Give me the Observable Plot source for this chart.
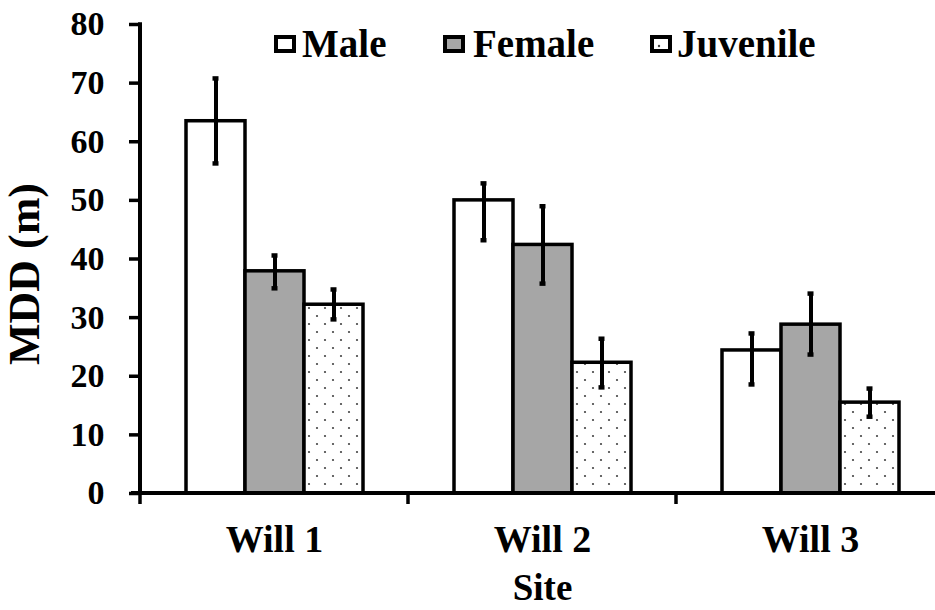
<!DOCTYPE html>
<html><head><meta charset="utf-8">
<script src="https://cdn.jsdelivr.net/npm/d3@7"></script>
<script src="https://cdn.jsdelivr.net/npm/@observablehq/plot@0.6"></script>
<style>
html,body{margin:0;padding:0;background:#fff;}
#wrap{position:relative;width:935px;height:610px;overflow:hidden;background:#fff;}
#legend{position:absolute;left:0;top:0;pointer-events:none;}
</style></head>
<body><div id="wrap"></div>
<script>
// ---- data ----
const sites = ["Will 1", "Will 2", "Will 3"];
const groups = ["Male", "Female", "Juvenile"];
const maleMean = [63.5, 50.0, 24.4];
const maleLo = [56.3, 43.2, 18.6];
const maleHi = [70.8, 52.9, 27.3];
const femaleMean = [37.9, 42.4, 28.8];
const femaleLo = [35.0, 35.8, 23.7];
const femaleHi = [40.6, 49.0, 34.1];
const juvMean = [32.2, 22.3, 15.5];
const juvLo = [29.7, 18.1, 13.1];
const juvHi = [34.8, 26.4, 17.9];
const yTicks = [0, 10, 20, 30, 40, 50, 60, 70, 80];
const yLabel = "MDD (m)";
const xLabel = "Site";
const groupFills = ["#ffffff", "#a6a6a6", "url(#dotPattern)"];

const series = {
  Male: [maleMean, maleLo, maleHi],
  Female: [femaleMean, femaleLo, femaleHi],
  Juvenile: [juvMean, juvLo, juvHi]
};
const rows = [];
sites.forEach((site, i) => {
  groups.forEach(g => {
    const [m, lo, hi] = series[g];
    rows.push({site, group: g, mean: m[i], lo: lo[i], hi: hi[i]});
  });
});

const FONT = "'Liberation Serif', 'Times New Roman', Times, serif";

const overlay = Plot.frame({
  facet: "super",
  stroke: "none",
  render: (index, scales, values, dims) => {
    const g = d3.create("svg:g");
    const pat = g.append("defs").append("pattern")
      .attr("id", "dotPattern").attr("patternUnits", "userSpaceOnUse")
      .attr("width", 16).attr("height", 16);
    pat.append("rect").attr("width", 16).attr("height", 16).attr("fill", "#fff");
    pat.append("circle").attr("cx", 4).attr("cy", 4).attr("r", 1.1).attr("fill", "#444");
    pat.append("circle").attr("cx", 12).attr("cy", 12).attr("r", 1.1).attr("fill", "#444");
    const y0 = scales.y(0), yTop = scales.y(d3.max(yTicks));
    const left = dims.marginLeft;
    const right = dims.width - dims.marginRight;
    g.append("line").attr("x1", left).attr("x2", left)
      .attr("y1", yTop - 1.75).attr("y2", y0 + 1.75)
      .attr("stroke", "black").attr("stroke-width", 4);
    g.append("line").attr("x1", left - 9).attr("x2", right)
      .attr("y1", y0).attr("y2", y0)
      .attr("stroke", "black").attr("stroke-width", 4);
    const fx = scales.fx;
    const step = (right - left) / sites.length;
    sites.forEach((s, i) => {
      const x = fx ? fx(s) : left + i * step;
      g.append("line").attr("x1", x).attr("x2", x)
        .attr("y1", y0).attr("y2", y0 + 11)
        .attr("stroke", "black").attr("stroke-width", 3.5);
    });
    return g.node();
  }
});

const chart = Plot.plot({
  width: 935,
  height: 610,
  marginLeft: 139,
  marginRight: -9,
  marginTop: 24,
  marginBottom: 117,
  style: {fontFamily: FONT, fontWeight: "bold", color: "black", background: "white"},
  fx: {domain: sites, padding: 0},
  x: {domain: groups, paddingInner: 0, paddingOuter: 0.74, axis: null},
  y: {domain: [0, 80]},
  color: {domain: groups, range: groupFills},
  marks: [
    Plot.barY(rows, {fx: "site", x: "group", y: "mean", fill: "group", stroke: "black", strokeWidth: 3.5}),
    Plot.ruleX(rows, {fx: "site", x: "group", y1: "lo", y2: "hi", stroke: "black", strokeWidth: 4}),
    Plot.tickY(rows, {fx: "site", x: "group", y: "hi", stroke: "black", strokeWidth: 4.5, insetLeft: 26.5, insetRight: 26.5}),
    Plot.tickY(rows, {fx: "site", x: "group", y: "lo", stroke: "black", strokeWidth: 4.5, insetLeft: 26.5, insetRight: 26.5}),
    Plot.axisY(yTicks, {tickSize: 11, tickPadding: 25, fontSize: 34, strokeWidth: 3.5, label: null}),
    Plot.axisFx({anchor: "bottom", tickSize: 0, tickPadding: 32, fontSize: 38, label: null}),
    Plot.text([yLabel], {facet: "super", frameAnchor: "left", textAnchor: "middle", rotate: -90, dx: -116, dy: 15, fontSize: 44, fontWeight: "bold"}),
    Plot.text([xLabel], {facet: "super", frameAnchor: "bottom", dy: 106, lineAnchor: "bottom", fontSize: 37, fontWeight: "bold"}),
    overlay
  ]
});
document.getElementById("wrap").appendChild(chart);

// ---- legend (overlay above plot) ----
const legendItems = [
  {label: groups[0], fill: groupFills[0], box: 274, text: 302},
  {label: groups[1], fill: groupFills[1], box: 443, text: 473},
  {label: groups[2], fill: null, box: 650, text: 677}
];
const lg = d3.select("#wrap").append("svg").attr("id", "legend")
  .attr("width", 935).attr("height", 70)
  .style("font-family", FONT).style("font-weight", "bold");
legendItems.forEach(it => {
  lg.append("rect").attr("x", it.box + 2).attr("y", 37).attr("width", 18).attr("height", 14)
    .attr("fill", it.fill || "#fff").attr("stroke", "black").attr("stroke-width", 4);
  if (!it.fill) {
    lg.append("circle").attr("cx", it.box + 9).attr("cy", 46).attr("r", 1.2).attr("fill", "#444");
  }
  lg.append("text").attr("x", it.text).attr("y", 57).attr("font-size", 39).attr("fill", "black").text(it.label);
});
</script>
</body></html>
